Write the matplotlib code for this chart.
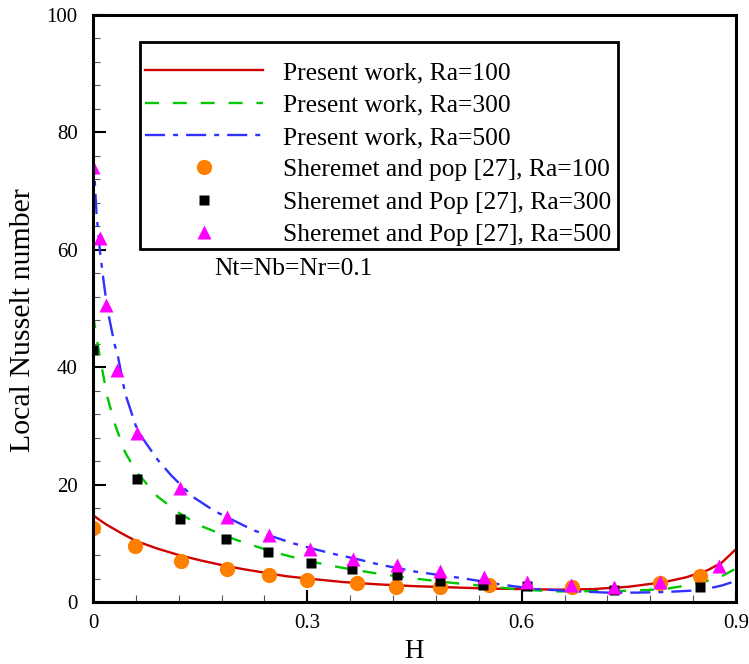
import numpy as np
import matplotlib
matplotlib.use('Agg')
import matplotlib.pyplot as plt
from matplotlib.ticker import MultipleLocator, FixedLocator
from matplotlib.patches import Rectangle

plt.rcParams['font.family'] = ['Liberation Serif', 'DejaVu Serif']

# --- Present work (lines) ---
h_ra100 = [0, 0.01, 0.02, 0.04, 0.06, 0.09, 0.12, 0.15, 0.18, 0.21, 0.24, 0.27, 0.30,
           0.35, 0.40, 0.45, 0.50, 0.55, 0.60, 0.65, 0.70, 0.75, 0.80, 0.83, 0.86, 0.88, 0.90]
nu_ra100 = [14.8, 13.9, 13.1, 11.7, 10.4, 9.1, 8.0, 7.1, 6.3, 5.6, 5.0, 4.4, 4.0,
            3.4, 3.0, 2.7, 2.5, 2.3, 2.2, 2.1, 2.2, 2.6, 3.4, 4.2, 5.4, 6.7, 9.0]

h_ra300 = [0, 0.005, 0.01, 0.02, 0.03, 0.045, 0.06, 0.09, 0.12, 0.15, 0.20, 0.25, 0.30,
           0.35, 0.40, 0.45, 0.50, 0.55, 0.60, 0.65, 0.70, 0.75, 0.80, 0.83, 0.86, 0.88, 0.90]
nu_ra300 = [49.0, 45.0, 41.5, 35.0, 30.5, 25.5, 22.3, 18.0, 15.2, 13.0, 10.6, 8.6, 7.0,
            5.8, 4.8, 4.0, 3.3, 2.7, 2.1, 1.8, 1.85, 1.9, 2.2, 2.8, 3.6, 4.4, 5.7]

h_ra500 = [0, 0.0025, 0.005, 0.01, 0.015, 0.02, 0.03, 0.035, 0.045, 0.06, 0.07, 0.09,
           0.11, 0.14, 0.17, 0.20, 0.225, 0.25, 0.28, 0.31, 0.34, 0.37, 0.40, 0.45,
           0.49, 0.52, 0.55, 0.57, 0.60, 0.62, 0.65, 0.68, 0.72, 0.76, 0.80, 0.85, 0.88, 0.90]
nu_ra500 = [76.5, 71.6, 66.0, 59.5, 54.5, 50.0, 44.0, 41.8, 35.5, 30.0, 27.8, 24.3,
            21.5, 17.9, 15.5, 13.7, 12.2, 11.2, 10.0, 9.0, 8.1, 7.3, 6.4, 5.2,
            4.5, 4.0, 3.4, 3.0, 2.5, 2.2, 2.0, 1.8, 1.6, 1.6, 1.7, 2.0, 2.8, 3.6]

# --- Sheremet and Pop [27] (markers) ---
h_sp100 = [0, 0.059, 0.123, 0.188, 0.246, 0.30, 0.37, 0.424, 0.486, 0.554, 0.67, 0.794, 0.849]
nu_sp100 = [12.6, 9.5, 7.0, 5.6, 4.6, 3.7, 3.2, 2.6, 2.5, 2.9, 2.5, 3.3, 4.5]

h_sp300 = [0, 0.062, 0.122, 0.186, 0.245, 0.305, 0.362, 0.425, 0.486, 0.546, 0.607, 0.729, 0.85]
nu_sp300 = [42.9, 21.0, 14.1, 10.7, 8.5, 6.7, 5.7, 4.6, 3.6, 2.9, 2.7, 2.0, 2.6]

h_sp500 = [0, 0.0098, 0.018, 0.034, 0.062, 0.122, 0.188, 0.247, 0.304, 0.364, 0.425,
           0.486, 0.547, 0.608, 0.669, 0.729, 0.794, 0.876]
nu_sp500 = [74.1, 62.0, 50.6, 39.5, 28.8, 19.4, 14.4, 11.4, 9.0, 7.4, 6.3,
            5.3, 4.2, 3.4, 2.9, 2.6, 3.4, 6.2]

W, H = 749, 664
fig = plt.figure(figsize=(W / 100, H / 100), dpi=100)
ax = fig.add_axes([93 / W, 1 - 602 / H, 643 / W, 587 / H])

lw = 1.7
ax.plot(h_ra100, nu_ra100, color='#d00000', lw=lw, label='Present work, Ra=100')
ax.plot(h_ra300, nu_ra300, color='#00c800', lw=lw, linestyle=(0, (5.9, 5.9)),
        label='Present work, Ra=300')
ax.plot(h_ra500, nu_ra500, color='#3030ff', lw=lw, linestyle=(0, (8.5, 3.4, 2.1, 3.4)),
        label='Present work, Ra=500')

ax.plot(h_sp100, nu_sp100, 'o', color='#ff8000', ms=11, mec='none',
        label='Sheremet and pop [27], Ra=100')
ax.plot(h_sp300, nu_sp300, 's', color='black', ms=7.4, mec='none',
        label='Sheremet and Pop [27], Ra=300')
ax.plot(h_sp500, nu_sp500, '^', color='#ff00ff', ms=9.5, mec='none',
        label='Sheremet and Pop [27], Ra=500')

ax.set_xlim(0, 0.9)
ax.set_ylim(0, 100)
ax.xaxis.set_major_locator(FixedLocator([0, 0.3, 0.6, 0.9]))
ax.xaxis.set_minor_locator(MultipleLocator(0.06))
ax.yaxis.set_major_locator(MultipleLocator(20))
ax.yaxis.set_minor_locator(MultipleLocator(4))
ax.set_xticklabels(['0', '0.3', '0.6', '0.9'])

ax.tick_params(which='both', direction='in', top=False, right=False, labelsize=15)
ax.tick_params(which='major', length=9, width=1.5, pad=9)
ax.tick_params(which='minor', length=5, width=0.8, color='#555555')
ax.tick_params(axis='y', which='major', pad=11)
for sp in ax.spines.values():
    sp.set_linewidth(2.2)

ax.set_xlabel('H', fontsize=19.5)
ax.set_ylabel('Local Nusselt number', fontsize=21.5)
ax.xaxis.set_label_coords(0.5, -0.063)
ax.yaxis.set_label_coords(-0.088, 0.48)

ax.text(0.2807, 56.7, 'Nt=Nb=Nr=0.1', fontsize=18.4, ha='center', va='center')

leg = ax.legend(loc='upper left', bbox_to_anchor=(145 / W, 1 - 61.5 / H),
                bbox_transform=fig.transFigure, frameon=False, fontsize=18.4,
                handlelength=4.6, handletextpad=0.8, labelspacing=0.37,
                borderpad=0, borderaxespad=0, numpoints=1)
leg.set_zorder(5)

# legend frame
fig.patches.append(Rectangle((140 / W, 1 - 249 / H), 478 / W, 207 / H,
                             transform=fig.transFigure, fill=False,
                             edgecolor='black', linewidth=2.0, zorder=6))

fig.savefig('out.png', dpi=100)
